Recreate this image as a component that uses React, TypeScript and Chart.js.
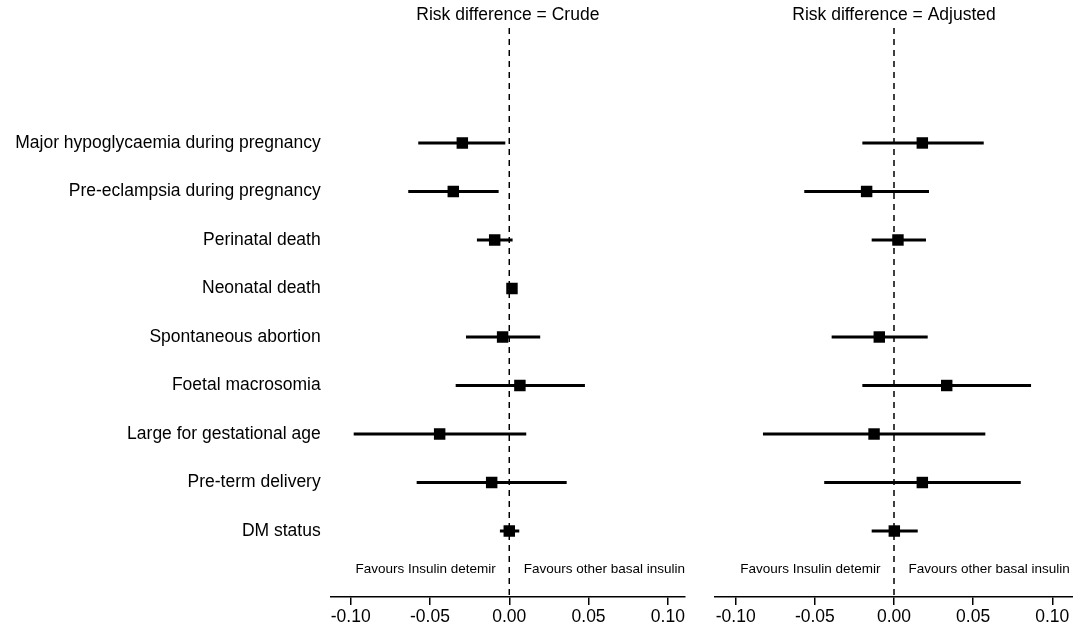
import React, { useEffect, useRef } from "react";
import { Chart, registerables } from "chart.js";
Chart.register(...registerables);

const outcomes = [
  "Major hypoglycaemia during pregnancy",
  "Pre-eclampsia during pregnancy",
  "Perinatal death",
  "Neonatal death",
  "Spontaneous abortion",
  "Foetal macrosomia",
  "Large for gestational age",
  "Pre-term delivery",
  "DM status",
];

const crudeEst = [-0.0296, -0.0353, -0.0092, 0.0017, -0.0042, 0.0067, -0.0439, -0.0111, 0.0];
const crudeLo = [-0.0574, -0.0637, -0.0204, 0.0008, -0.0273, -0.0338, -0.0981, -0.0584, -0.0059];
const crudeHi = [-0.0025, -0.0067, 0.0021, 0.0026, 0.0195, 0.0477, 0.0107, 0.0362, 0.0063];

const adjEst: (number | null)[] = [0.0179, -0.0173, 0.0025, null, -0.0093, 0.0333, -0.0126, 0.0179, 0.0002];
const adjLo: (number | null)[] = [-0.02, -0.0567, -0.0141, null, -0.0394, -0.02, -0.0828, -0.0441, -0.0141];
const adjHi: (number | null)[] = [0.0567, 0.0221, 0.0202, null, 0.0213, 0.0866, 0.0577, 0.0801, 0.015];

const xTicks = [-0.1, -0.05, 0, 0.05, 0.1];
const panelTitles = ["Risk difference = Crude", "Risk difference = Adjusted"];
const favourLeft = "Favours Insulin detemir";
const favourRight = "Favours other basal insulin";

const Y_MIN = -2.37;
const Y_MAX = 9.36;
const FAVOUR_ROW = 8.78;
const FONT = "'Liberation Sans', Arial, sans-serif";

function makeConfig(
  title: string,
  est: (number | null)[],
  lo: (number | null)[],
  hi: (number | null)[],
  showLabels: boolean,
  xMin: number,
  xMax: number,
  padding: any,
  yWidth: number
): any {
  const ciSets = est
    .map((_, i) => i)
    .filter((i) => lo[i] != null && hi[i] != null)
    .map((i) => ({
      type: "line",
      data: [
        { x: lo[i], y: i },
        { x: hi[i], y: i },
      ],
      borderColor: "#000",
      borderWidth: 3,
      pointRadius: 0,
      order: 1,
    }));
  const pts = est
    .map((v, i) => (v == null ? null : { x: v, y: i }))
    .filter((p) => p != null);

  const favourPlugin = {
    id: "favour",
    afterDatasetsDraw(chart: any) {
      const ctx = chart.ctx;
      const xs = chart.scales.x;
      const ys = chart.scales.y;
      const x0 = xs.getPixelForValue(0);
      const y = ys.getPixelForValue(FAVOUR_ROW);
      ctx.save();
      ctx.fillStyle = "#000";
      ctx.font = `13.5px ${FONT}`;
      ctx.textBaseline = "middle";
      ctx.textAlign = "right";
      ctx.fillText(favourLeft, x0 - 13.5, y);
      ctx.textAlign = "left";
      ctx.fillText(favourRight, x0 + 14.5, y);
      ctx.restore();
    },
  };

  return {
    type: "scatter",
    data: {
      datasets: [
        {
          type: "scatter",
          data: pts,
          pointStyle: "rect",
          pointRadius: 8.1,
          backgroundColor: "#000",
          borderWidth: 0,
          order: 0,
        },
        ...ciSets,
        {
          type: "line",
          data: [
            { x: 0, y: Y_MIN },
            { x: 0, y: Y_MAX },
          ],
          borderColor: "#000",
          borderWidth: 1.5,
          borderDash: [6, 5],
          pointRadius: 0,
          order: 2,
        },
      ],
    },
    options: {
      animation: false,
      responsive: false,
      layout: { padding, autoPadding: false },
      plugins: {
        legend: { display: false },
        tooltip: { enabled: false },
        title: {
          display: true,
          text: title,
          fullSize: false,
          color: "#000",
          font: { family: FONT, size: 17.5, weight: "normal" },
          padding: { top: 5, bottom: 2 },
        },
      },
      scales: {
        x: {
          type: "linear",
          min: xMin,
          max: xMax,
          afterBuildTicks: (s: any) => {
            s.ticks = xTicks.map((v) => ({ value: v }));
          },
          afterFit: (s: any) => {
            s.height = 38;
            s.paddingLeft = 0;
            s.paddingRight = 0;
          },
          ticks: {
            color: "#000",
            padding: 2,
            maxRotation: 0,
            font: { family: FONT, size: 17.5 },
            callback: (v: any) => Number(v).toFixed(2),
          },
          grid: {
            display: true,
            drawOnChartArea: false,
            drawTicks: true,
            tickLength: 8,
            color: "#000",
            lineWidth: 1.5,
          },
          border: { display: true, color: "#000", width: 1.5 },
        },
        y: {
          type: "linear",
          reverse: true,
          min: Y_MIN,
          max: Y_MAX,
          display: showLabels,
          afterBuildTicks: (s: any) => {
            s.ticks = outcomes.map((_, i) => ({ value: i }));
          },
          afterFit: (s: any) => {
            s.width = yWidth;
            s.paddingTop = 0;
            s.paddingBottom = 0;
          },
          ticks: {
            color: "#000",
            padding: 10,
            font: { family: FONT, size: 17.5 },
            callback: (v: any) => outcomes[Math.round(Number(v))] ?? "",
          },
          grid: { display: false, drawTicks: false },
          border: { display: false },
        },
      },
    },
    plugins: [favourPlugin],
  };
}

export default function App() {
  const leftRef = useRef<HTMLCanvasElement>(null);
  const rightRef = useRef<HTMLCanvasElement>(null);

  useEffect(() => {
    const c1 = new Chart(
      leftRef.current!,
      makeConfig(panelTitles[0], crudeEst, crudeLo, crudeHi, true, -0.1126, 0.1108, { left: 0, right: 15, top: 0, bottom: 0 }, 330.7)
    );
    const c2 = new Chart(
      rightRef.current!,
      makeConfig(panelTitles[1], adjEst, adjLo, adjHi, false, -0.1131, 0.1131, { left: 15, right: 0, top: 0, bottom: 0 }, 0)
    );
    return () => {
      c1.destroy();
      c2.destroy();
    };
  }, []);

  return (
    <div style={{ position: "absolute", left: 0, top: 0, width: 1073, height: 635, background: "#fff" }}>
      <canvas ref={leftRef} width={700} height={635} style={{ position: "absolute", left: 0, top: 0 }} />
      <canvas ref={rightRef} width={373} height={635} style={{ position: "absolute", left: 700, top: 0 }} />
    </div>
  );
}
